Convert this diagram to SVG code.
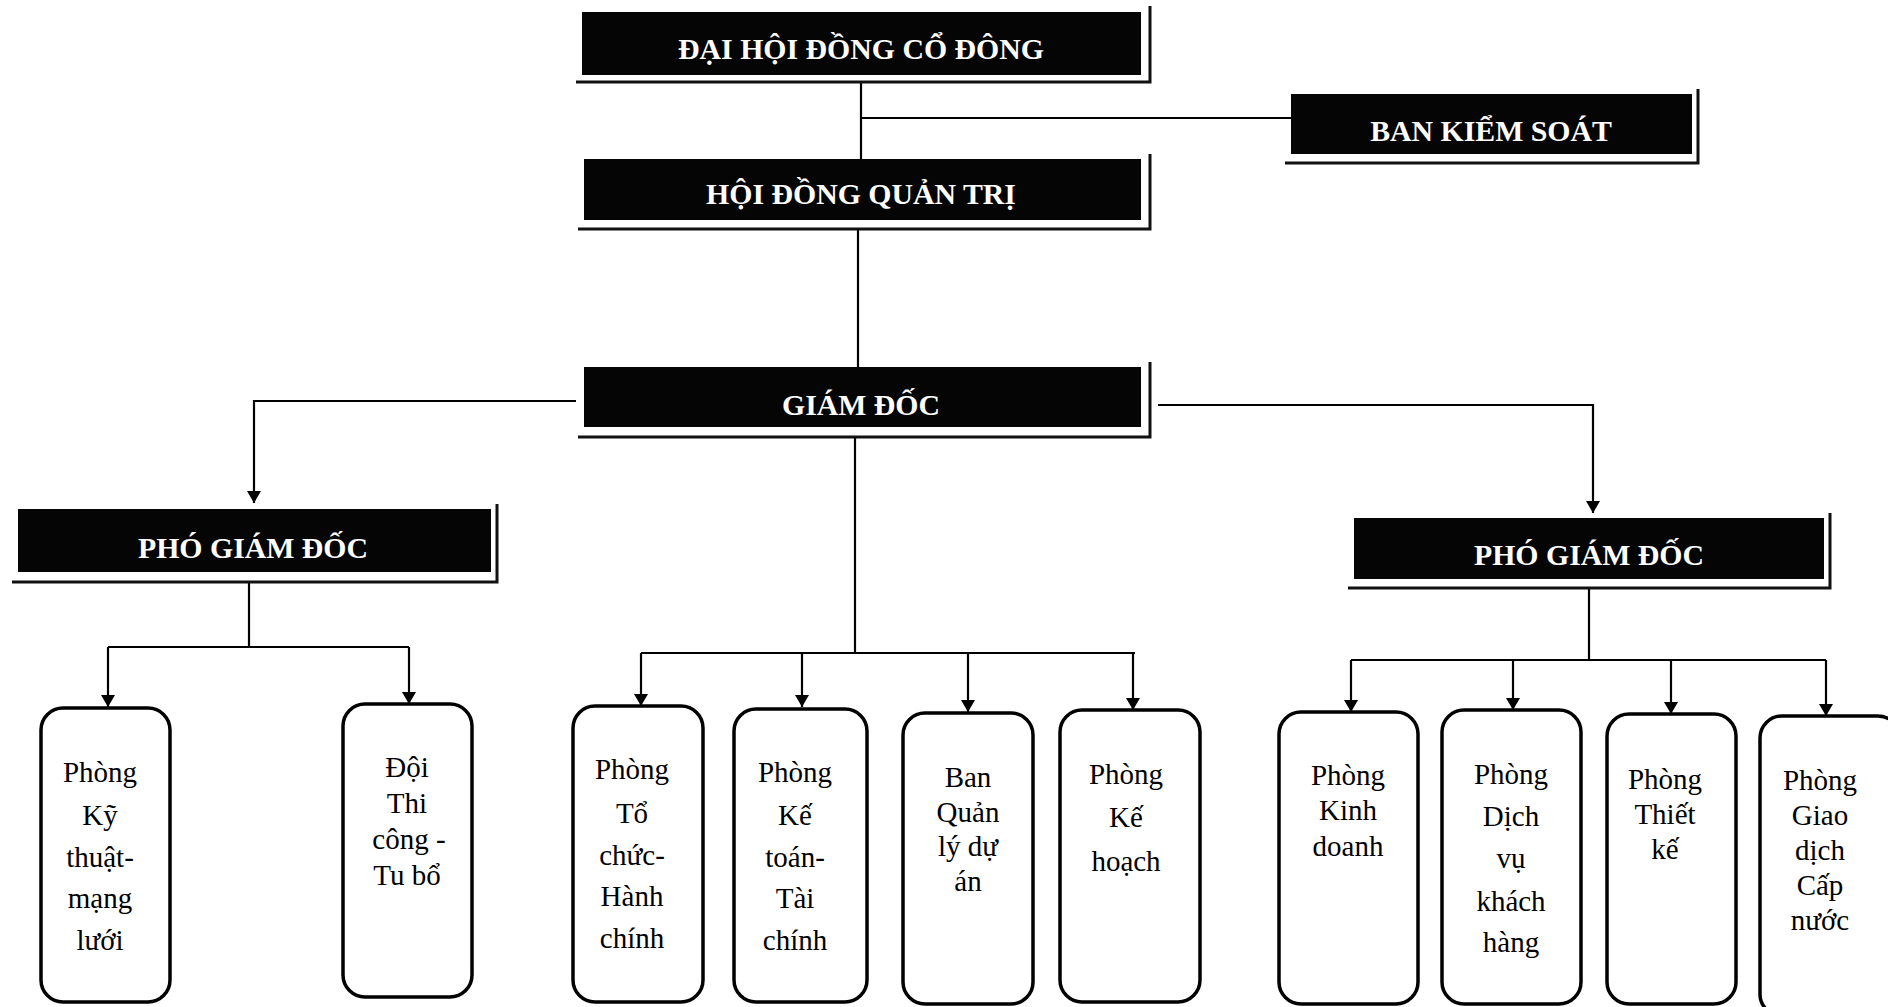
<svg xmlns="http://www.w3.org/2000/svg" width="1888" height="1007" viewBox="0 0 1888 1007">
<style>
.bk{fill:#050505}
.fr{fill:none;stroke:#111;stroke-width:3}
.ht{font-family:"Liberation Serif","Times New Roman",serif;font-weight:bold;font-size:29.8px;fill:#fff;text-anchor:middle}
.rb{fill:#fff;stroke:#000;stroke-width:3.5}
.bt{font-family:"Liberation Serif","Times New Roman",serif;font-size:29px;fill:#000;text-anchor:middle}
.ln{fill:none;stroke:#000;stroke-width:2.2}
</style>
<defs>
<marker id="ar" viewBox="0 0 12 14" refX="12" refY="7" markerWidth="12" markerHeight="14" markerUnits="userSpaceOnUse" orient="auto">
<path d="M0,0 L12,7 L0,14 Z" fill="#000"/>
</marker>
</defs>
<rect width="1888" height="1007" fill="#fff"/>

<g id="connectors">
<path class="ln" d="M861,82 V159"/>
<path class="ln" d="M861,118 H1291"/>
<path class="ln" d="M858,229 V367"/>
<path class="ln" d="M576,401 H254 V503" marker-end="url(#ar)"/>
<path class="ln" d="M1158,405 H1593 V513" marker-end="url(#ar)"/>
<path class="ln" d="M249,582 V647"/>
<path class="ln" d="M108,647 H409"/>
<path class="ln" d="M108,647 V707" marker-end="url(#ar)"/>
<path class="ln" d="M409,647 V704" marker-end="url(#ar)"/>
<path class="ln" d="M855,437 V653"/>
<path class="ln" d="M641,653 H1135"/>
<path class="ln" d="M641,653 V706" marker-end="url(#ar)"/>
<path class="ln" d="M802,653 V707" marker-end="url(#ar)"/>
<path class="ln" d="M968,653 V712" marker-end="url(#ar)"/>
<path class="ln" d="M1133,653 V710" marker-end="url(#ar)"/>
<path class="ln" d="M1589,588 V660"/>
<path class="ln" d="M1351,660 H1826"/>
<path class="ln" d="M1351,660 V712" marker-end="url(#ar)"/>
<path class="ln" d="M1513,660 V710" marker-end="url(#ar)"/>
<path class="ln" d="M1671,660 V714" marker-end="url(#ar)"/>
<path class="ln" d="M1826,660 V716" marker-end="url(#ar)"/>
</g>

<g id="dhdcd">
<rect class="bk" x="582" y="12" width="559" height="63"/>
<polyline class="fr" points="576,82 1150,82 1150,6"/>
<text class="ht" x="861" y="59">ĐẠI HỘI ĐỒNG CỔ ĐÔNG</text>
</g>
<g id="bks">
<rect class="bk" x="1291" y="94" width="401" height="60"/>
<polyline class="fr" points="1285,163 1698,163 1698,89"/>
<text class="ht" x="1491" y="141">BAN KIỂM SOÁT</text>
</g>
<g id="hdqt">
<rect class="bk" x="584" y="159" width="557" height="61"/>
<polyline class="fr" points="578,229 1150,229 1150,154"/>
<text class="ht" x="861" y="204">HỘI ĐỒNG QUẢN TRỊ</text>
</g>
<g id="gd">
<rect class="bk" x="584" y="367" width="557" height="60"/>
<polyline class="fr" points="578,437 1150,437 1150,362"/>
<text class="ht" x="861" y="415">GIÁM ĐỐC</text>
</g>
<g id="pgd1">
<rect class="bk" x="18" y="509" width="473" height="63"/>
<polyline class="fr" points="12,582 497,582 497,504"/>
<text class="ht" x="253" y="558">PHÓ GIÁM ĐỐC</text>
</g>
<g id="pgd2">
<rect class="bk" x="1354" y="518" width="470" height="61"/>
<polyline class="fr" points="1348,588 1830,588 1830,513"/>
<text class="ht" x="1589" y="565">PHÓ GIÁM ĐỐC</text>
</g>

<g id="p1">
<rect class="rb" x="41" y="708" width="129" height="294" rx="22"/>
<text class="bt" x="100"><tspan x="100" y="782">Phòng</tspan><tspan x="100" y="825">Kỹ</tspan><tspan x="100" y="867">thuật-</tspan><tspan x="100" y="908">mạng</tspan><tspan x="100" y="950">lưới</tspan></text>
</g>
<g id="p2">
<rect class="rb" x="343" y="704" width="129" height="293" rx="22"/>
<text class="bt" x="407"><tspan x="407" y="777">Đội</tspan><tspan x="407" y="813">Thi</tspan><tspan x="409" y="849">công -</tspan><tspan x="407" y="885">Tu bổ</tspan></text>
</g>
<g id="p3">
<rect class="rb" x="573" y="706" width="130" height="296" rx="22"/>
<text class="bt" x="632"><tspan x="632" y="779">Phòng</tspan><tspan x="632" y="823">Tổ</tspan><tspan x="632" y="865">chức-</tspan><tspan x="632" y="906">Hành</tspan><tspan x="632" y="948">chính</tspan></text>
</g>
<g id="p4">
<rect class="rb" x="734" y="709" width="133" height="293" rx="22"/>
<text class="bt" x="795"><tspan x="795" y="782">Phòng</tspan><tspan x="795" y="825">Kế</tspan><tspan x="795" y="867">toán-</tspan><tspan x="795" y="908">Tài</tspan><tspan x="795" y="950">chính</tspan></text>
</g>
<g id="p5">
<rect class="rb" x="903" y="713" width="130" height="291" rx="22"/>
<text class="bt" x="968"><tspan x="968" y="787">Ban</tspan><tspan x="968" y="822">Quản</tspan><tspan x="968" y="856">lý dự</tspan><tspan x="968" y="891">án</tspan></text>
</g>
<g id="p6">
<rect class="rb" x="1060" y="710" width="140" height="292" rx="22"/>
<text class="bt" x="1126"><tspan x="1126" y="784">Phòng</tspan><tspan x="1126" y="827">Kế</tspan><tspan x="1126" y="871">hoạch</tspan></text>
</g>
<g id="p7">
<rect class="rb" x="1279" y="712" width="139" height="292" rx="22"/>
<text class="bt" x="1348"><tspan x="1348" y="785">Phòng</tspan><tspan x="1348" y="820">Kinh</tspan><tspan x="1348" y="856">doanh</tspan></text>
</g>
<g id="p8">
<rect class="rb" x="1442" y="710" width="139" height="294" rx="22"/>
<text class="bt" x="1511"><tspan x="1511" y="784">Phòng</tspan><tspan x="1511" y="826">Dịch</tspan><tspan x="1511" y="868">vụ</tspan><tspan x="1511" y="911">khách</tspan><tspan x="1511" y="952">hàng</tspan></text>
</g>
<g id="p9">
<rect class="rb" x="1607" y="714" width="129" height="290" rx="22"/>
<text class="bt" x="1665"><tspan x="1665" y="789">Phòng</tspan><tspan x="1665" y="824">Thiết</tspan><tspan x="1665" y="859">kế</tspan></text>
</g>
<g id="p10">
<rect class="rb" x="1760" y="716" width="140" height="300" rx="22"/>
<text class="bt" x="1820"><tspan x="1820" y="790">Phòng</tspan><tspan x="1820" y="825">Giao</tspan><tspan x="1820" y="860">dịch</tspan><tspan x="1820" y="895">Cấp</tspan><tspan x="1820" y="930">nước</tspan></text>
</g>
</svg>
